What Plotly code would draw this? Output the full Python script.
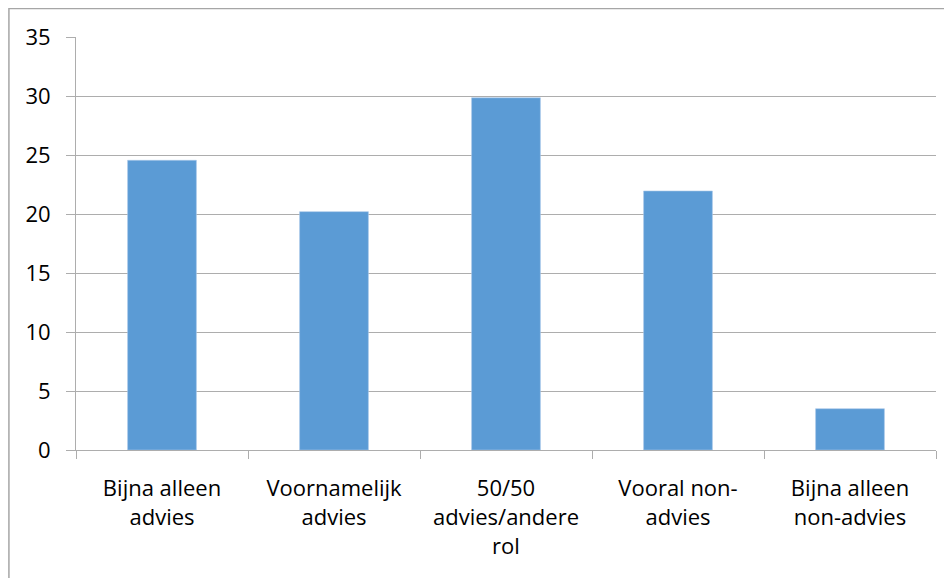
import plotly.graph_objects as go

categories = [
    "Bijna alleen<br>advies",
    "Voornamelijk<br>advies",
    "50/50<br>advies/andere<br>rol",
    "Vooral non-<br>advies",
    "Bijna alleen<br>non-advies",
]
values = [24.55, 20.2, 29.85, 21.95, 3.5]
y_ticks = [0, 5, 10, 15, 20, 25, 30, 35]

grid_color = "#ADADAD"

fig = go.Figure(go.Bar(
    x=categories,
    y=values,
    marker=dict(color="#5B9BD5", line=dict(color="#A9C8EA", width=0.6)),
    width=0.4,
))

# page body has an 8px margin, so margins are shifted to land on the reference pixels
fig.update_layout(
    width=952,
    height=578,
    margin=dict(l=68, r=24, t=29, b=136),
    paper_bgcolor="white",
    plot_bgcolor="white",
    font=dict(family="Open Sans, Noto Sans, sans-serif", size=22, color="black"),
    showlegend=False,
    xaxis=dict(
        showline=True,
        linecolor=grid_color,
        linewidth=1,
        ticks="outside",
        tickson="boundaries",
        ticklen=8,
        tickcolor=grid_color,
        showgrid=False,
        ticklabelstandoff=19,
    ),
    yaxis=dict(
        range=[0, 35],
        tickvals=y_ticks,
        showline=True,
        linecolor=grid_color,
        linewidth=1,
        ticks="outside",
        ticklen=9,
        tickcolor=grid_color,
        showgrid=True,
        gridcolor=grid_color,
        gridwidth=1,
        zeroline=False,
        ticklabelstandoff=11,
    ),
    shapes=[dict(
        type="rect", xref="paper", yref="paper",
        x0=-0.078, x1=1.05, y0=-0.4, y1=1.069,
        line=dict(color="#A6A6A6", width=1.5),
        fillcolor="rgba(0,0,0,0)",
        layer="below",
    )],
)

fig.write_html("out.html")
